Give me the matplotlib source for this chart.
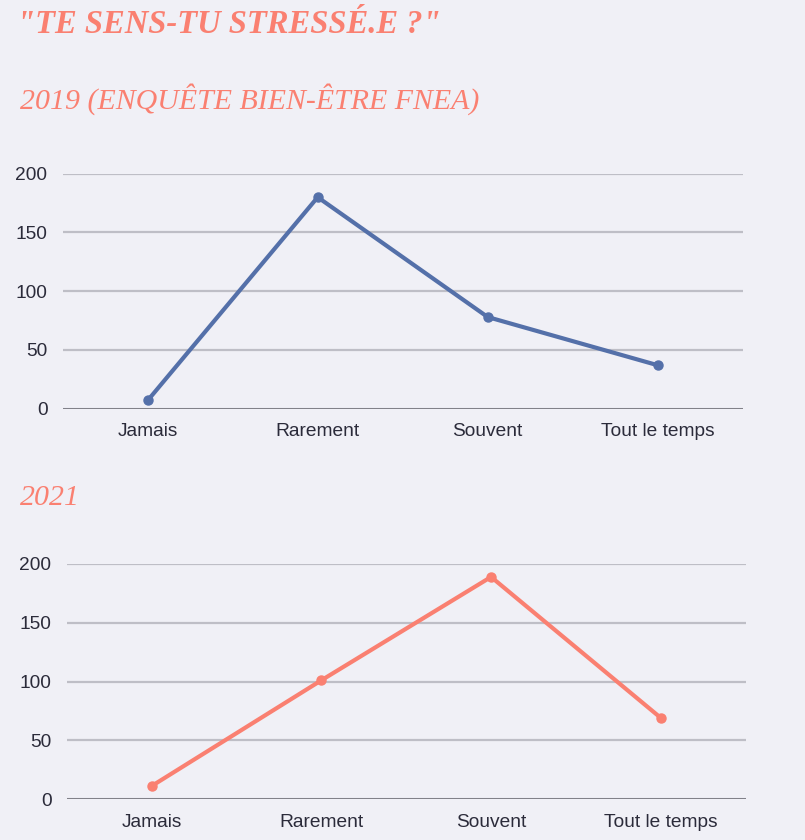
import matplotlib.pyplot as plt

# data
categories = ['Jamais', 'Rarement', 'Souvent', 'Tout le temps']
values_2019 = [7, 180, 78, 37]
values_2021 = [11, 101, 189, 69]
yticks = [0, 50, 100, 150, 200]

title = '"TE SENS-TU STRESSÉ.E ?"'
subtitle_2019 = '2019 (ENQUÊTE BIEN-ÊTRE FNEA)'
subtitle_2021 = '2021'

BG = '#f0f0f6'
SALMON = '#fa8071'
BLUE = '#5470a9'
GRID = '#bebec6'
TEXT = '#2b2b3a'

plt.rcParams['font.family'] = ['Liberation Sans', 'DejaVu Sans']

fig = plt.figure(figsize=(8.05, 8.4), dpi=100)
fig.patch.set_facecolor(BG)


def draw_panel(rect, values, color):
    ax = fig.add_axes(rect)
    ax.set_facecolor(BG)
    x = list(range(len(categories)))
    ax.plot(x, values, color=color, linewidth=3, marker='o', markersize=6.5,
            solid_capstyle='round', zorder=3, clip_on=False)
    ax.set_xlim(-0.5, len(categories) - 0.5)
    ax.set_ylim(0, 200)
    ax.set_yticks(yticks)
    ax.set_xticks(x)
    ax.set_xticklabels(categories)
    for v in yticks[1:]:
        ax.axhline(v, color=GRID, linewidth=1.6, zorder=1)
    ax.axhline(0, color='#818189', linewidth=2.2, zorder=2)
    for s in ax.spines.values():
        s.set_visible(False)
    ax.tick_params(length=0, labelsize=13.8, labelcolor=TEXT)
    ax.tick_params(axis='y', pad=11)
    ax.tick_params(axis='x', pad=10.5)
    return ax


draw_panel([62.7 / 805, (840 - 408.7) / 840, 680 / 805, 235 / 840], values_2019, BLUE)
draw_panel([66.7 / 805, (840 - 799) / 840, 679 / 805, 235 / 840], values_2021, SALMON)

fig.text(17 / 805, 1 - 33 / 840, title, color=SALMON, fontsize=23.5,
         fontweight='bold', fontstyle='italic', family='Liberation Serif')
fig.text(20 / 805, 1 - 109 / 840, subtitle_2019, color=SALMON, fontsize=21.5,
         fontstyle='italic', family='Liberation Serif')
fig.text(20 / 805, 1 - 505 / 840, subtitle_2021, color=SALMON, fontsize=21.5,
         fontstyle='italic', family='Liberation Serif')

fig.savefig('out.png', dpi=100, facecolor=BG)
